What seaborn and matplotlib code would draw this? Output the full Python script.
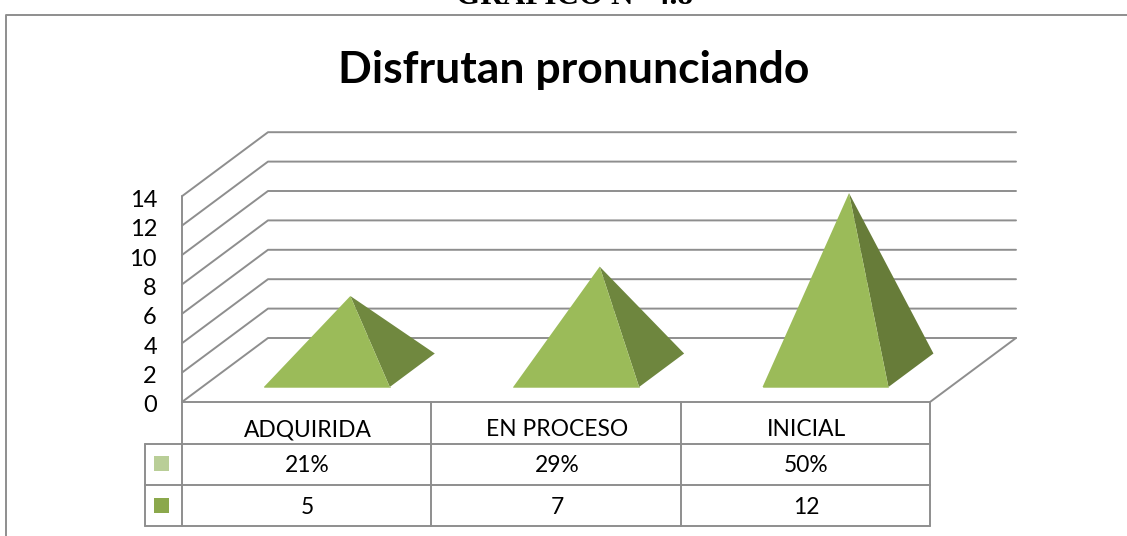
import matplotlib
matplotlib.use("Agg")
import matplotlib.pyplot as plt
from matplotlib.transforms import ScaledTranslation
import pandas as pd
import seaborn as sns

# DATOS
categorias = ["ADQUIRIDA", "EN PROCESO", "INICIAL"]
valores = [5, 7, 12]
porcentajes = ["21%", "29%", "50%"]
ticks_y = [0, 2, 4, 6, 8, 10, 12, 14]

titulo = "Disfrutan pronunciando"
encabezado = "GRÁFICO N° 4.8"

# ESTILO
GRIS = "#8E8E8E"
LW = 1.4
VERDE_FRENTE = "#9BBB59"
VERDES_LADO = ["#70883F", "#6E863E", "#677C39"]
VERDE_CLARO = "#B9CE97"
VERDE_MEDIO = "#8BA84C"

sns.set_theme(style="white")
plt.rcParams["font.family"] = ["Lato", "DejaVu Sans"]

W, H = 1127, 536
fig = plt.figure(figsize=(W / 100, H / 100), dpi=100)

# capa en pixeles para marco, titulo y tabla
fondo = fig.add_axes([0, 0, 1, 1])
fondo.set_xlim(0, W)
fondo.set_ylim(H, 0)
fondo.axis("off")

fondo.plot([6, 6, W], [H, 15, 15], color=GRIS, lw=LW, clip_on=False)
fondo.text(574, 70, titulo, ha="center", va="center", fontsize=32, fontweight="bold", color="black")
fondo.text(575, 3.5, encabezado, ha="center", va="baseline", fontsize=22.5, fontweight="bold",
           family="Liberation Serif", color="black")

# ejes del grafico: frente del plano 182-930 px, base en y=402 px
x0, x1, y_base = 182, 930, 402
px_por_unidad = 14.7
alto_ejes = 14 * px_por_unidad
ax = fig.add_axes([x0 / W, (H - y_base) / H, (x1 - x0) / W, alto_ejes / H])
ax.patch.set_alpha(0)

df = pd.DataFrame({"categoria": categorias, "valor": valores})
sns.barplot(data=df, x="categoria", y="valor", width=0.505, ax=ax)
ax.set_xlim(-0.5, len(categorias) - 0.5)
ax.set_ylim(0, 14)

# profundidad oblicua, en unidades de los ejes
prof_x = 86 / ((x1 - x0) / len(categorias))
prof_y = 64 / px_por_unidad


def proyectar(x, y, z):
    return x + z * prof_x, y + z * prof_y


# paredes y piso
for t in ticks_y:
    xa, ya = proyectar(-0.5, t, 0)
    xb, yb = proyectar(-0.5, t, 1)
    xc, yc = proyectar(len(categorias) - 0.5, t, 1)
    ax.plot([xa, xb, xc], [ya, yb, yc], color=GRIS, lw=LW, clip_on=False, zorder=1)

xa, ya = proyectar(len(categorias) - 0.5, 0, 0)
xb, yb = proyectar(len(categorias) - 0.5, 0, 1)
ax.plot([-0.5, xa, xb], [0, ya, yb], color=GRIS, lw=LW, clip_on=False, zorder=1)
ax.plot([-0.5, -0.5], [0, 14], color=GRIS, lw=LW, clip_on=False, zorder=1)

# piramides a partir de las barras de seaborn
z_frente, z_fondo = 15 / 64, 48.5 / 64
z_medio = (15 / 64 + 50 / 64) / 2
for barra, lado in zip(list(ax.patches), VERDES_LADO):
    izq = barra.get_x()
    der = izq + barra.get_width()
    centro = izq + barra.get_width() / 2
    h = barra.get_height()
    barra.set_visible(False)

    a = proyectar(izq, 0, z_frente)
    b = proyectar(der, 0, z_frente)
    c = proyectar(der, 0, z_fondo)
    p = proyectar(centro, h, z_medio)
    ax.fill([b[0], c[0], p[0]], [b[1], c[1], p[1]], color=lado, lw=0, clip_on=False, zorder=3)
    ax.fill([a[0], b[0], p[0]], [a[1], b[1], p[1]], color=VERDE_FRENTE, lw=0, clip_on=False, zorder=4)
    ax.plot([a[0], b[0]], [a[1], b[1]], color="#B5CC84", lw=0.7, clip_on=False, zorder=5)

ax.set_yticks(ticks_y)
ax.set_yticklabels([str(t) for t in ticks_y], fontsize=17, color="black")
ax.tick_params(axis="y", length=0, pad=18)
# etiquetas 2 px mas abajo, como en el original
for lab in ax.get_yticklabels():
    lab.set_transform(lab.get_transform() + ScaledTranslation(0, -2 / 100, fig.dpi_scale_trans))
ax.set_xticks([])
ax.set_xlabel("")
ax.set_ylabel("")
sns.despine(ax=ax, left=True, bottom=True)

# tabla de datos
columnas = [182, 431, 681, 930]
filas = [402, 444, 485, 526]
for xc in columnas:
    fondo.plot([xc, xc], [filas[0], filas[-1]], color=GRIS, lw=LW)
for yf in filas[1:]:
    fondo.plot([145, columnas[-1]], [yf, yf], color=GRIS, lw=LW)
fondo.plot([145, 145], [filas[1], filas[-1]], color=GRIS, lw=LW)

for i, (cat, pct, val) in enumerate(zip(categorias, porcentajes, valores)):
    xc = (columnas[i] + columnas[i + 1]) / 2 + 1
    fondo.text(xc, 430, cat, ha="center", va="center", fontsize=16.4, color="black")
    fondo.text(xc, 466, pct, ha="center", va="center", fontsize=16.4, color="black")
    fondo.text(xc, 507, str(val), ha="center", va="center", fontsize=16.4, color="black")

fondo.fill([154, 169, 169, 154], [456, 456, 471, 471], color=VERDE_CLARO, lw=0)
fondo.fill([154, 169, 169, 154], [498, 498, 513, 513], color=VERDE_MEDIO, lw=0)

fig.savefig("out.png", dpi=100)
